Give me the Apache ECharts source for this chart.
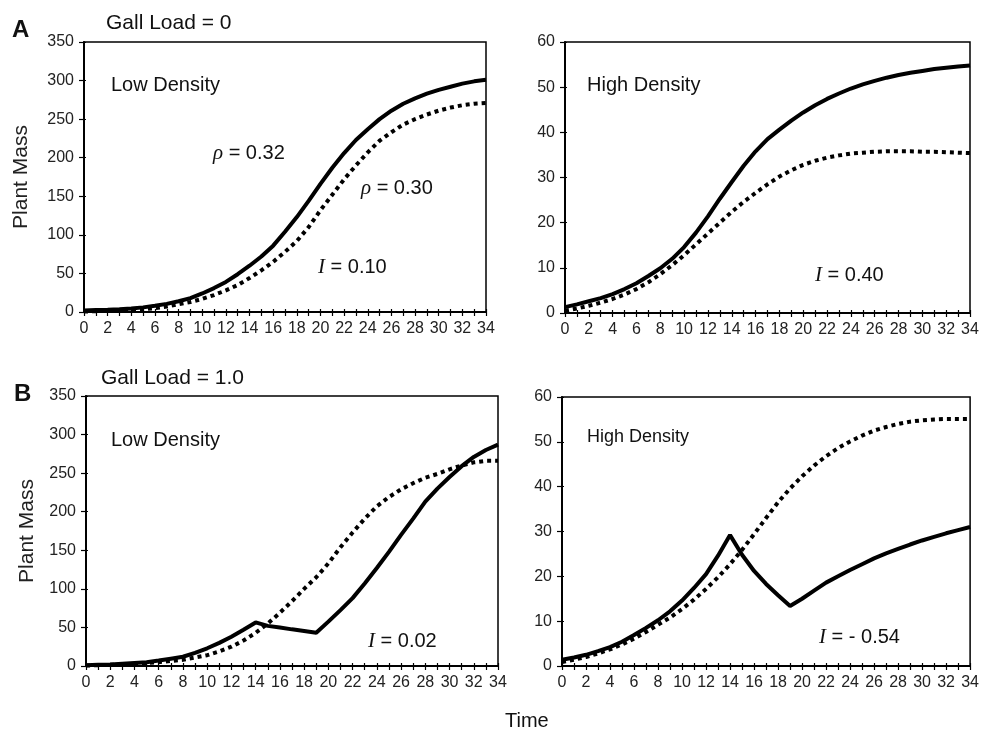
<!DOCTYPE html>
<html>
<head>
<meta charset="utf-8">
<script src="https://cdn.jsdelivr.net/npm/echarts@6/dist/echarts.min.js"></script>
<style>
  html, body { margin: 0; padding: 0; background: #fff; }
  #main { width: 982px; height: 730px; }
</style>
</head>
<body>
<div id="main"></div>
<script>
// time steps on the x axis (0..34)
const timeLabels = ['0', '1', '2', '3', '4', '5', '6', '7', '8', '9', '10', '11', '12', '13', '14', '15', '16',
    '17', '18', '19', '20', '21', '22', '23', '24', '25', '26', '27', '28', '29', '30', '31', '32', '33', '34']

// A: gall load = 0
const lowSolidA = [2, 2.5, 3, 3.6, 4.5, 6, 8, 10.5, 14, 18, 24, 31, 39, 49, 60, 72, 86, 104, 123, 144, 166,
    187, 206, 223, 237, 250, 261, 270, 277, 283, 288, 292, 296, 299, 301]
const lowDotA = [0.5, 1, 1.5, 2, 2.5, 3.5, 5, 7, 10, 13, 17, 22, 28, 35, 44, 54, 65, 78, 92, 110, 132,
    152, 172, 190, 207, 222, 233, 243, 250, 256, 261, 265, 268, 270, 271]
const highSolidA = [1.3, 1.9, 2.6, 3.3, 4.2, 5.3, 6.6, 8.2, 9.9, 12, 14.6, 17.8, 21.4, 25.3, 29, 32.6, 35.8,
    38.5, 40.6, 42.6, 44.4, 46, 47.4, 48.6, 49.7, 50.6, 51.4, 52.1, 52.7, 53.2, 53.6, 54, 54.3, 54.6, 54.8]
const highDotA = [0.5, 1, 1.6, 2.3, 3.1, 4.1, 5.3, 6.8, 8.6, 10.6, 12.8, 15.2, 17.6, 20, 22.4, 24.6, 26.6,
    28.5, 30.2, 31.6, 32.8, 33.7, 34.4, 34.9, 35.3, 35.5, 35.7, 35.8, 35.8, 35.8, 35.7, 35.7, 35.6, 35.5, 35.4]

// B: gall load = 1.0
const lowSolidB = [1, 1.5, 2, 3, 4, 5, 7, 9.5, 12, 17, 23, 30, 38, 47, 56.5, 52, 50, 47.5, 45.4, 43, 57.5,
    72.5, 88, 107, 127, 148, 170, 191, 213, 230, 245, 259, 271, 280, 287]
const lowDotB = [0.5, 1, 1.5, 2, 3, 4, 5, 6.5, 8, 11, 14, 19, 25, 33, 43, 55, 69, 84, 100, 115, 133,
    154, 173, 191, 207, 219, 229, 237, 244, 249, 255, 260, 264, 266, 266]
const highSolidB = [1.4, 1.9, 2.5, 3.3, 4.2, 5.4, 6.9, 8.5, 10.2, 12.2, 14.6, 17.4, 20.5, 24.6, 29.2, 24.8,
    21.2, 18.3, 15.8, 13.4, 15, 16.8, 18.6, 20, 21.4, 22.7, 24, 25.1, 26.1, 27.1, 28, 28.8, 29.6, 30.3, 31]
const highDotB = [0.9, 1.4, 2, 2.8, 3.7, 4.8, 6.1, 7.6, 9.2, 10.8, 12.7, 14.8, 17.2, 19.8, 22.7, 25.9, 29.4,
    33, 36.5, 39.6, 42.3, 44.7, 46.8, 48.6, 50.1, 51.4, 52.5, 53.3, 54, 54.5, 54.8, 55, 55.1, 55.1, 55.1]

const SANS = 'Liberation Sans'
const SERIF = 'Liberation Serif'

// four panels: grid box, y range, curves
const panels = [
    { box: { left: 84, top: 42, width: 402, height: 270 }, max: 350, step: 50, solid: lowSolidA, dot: lowDotA, yName: 'Plant Mass', nameGap: 52 },
    { box: { left: 565, top: 42, width: 405, height: 271 }, max: 60, step: 10, solid: highSolidA, dot: highDotA },
    { box: { left: 86, top: 396, width: 412, height: 270 }, max: 350, step: 50, solid: lowSolidB, dot: lowDotB, yName: 'Plant Mass', nameGap: 48 },
    { box: { left: 562, top: 397, width: 409, height: 269 }, max: 60, step: 10, solid: highSolidB, dot: highDotB }
]

const grid = []
const xAxis = []
const yAxis = []
const series = []

panels.forEach((p, i) => {
    grid.push(Object.assign({ show: true, borderColor: '#000', borderWidth: 1.5 }, p.box))

    // main x axis + a second one only for the ticks that poke inside
    xAxis.push({
        gridIndex: i,
        type: 'category',
        position: 'bottom',
        data: timeLabels,
        boundaryGap: false,
        axisLine: { lineStyle: { color: '#000', width: 2 } },
        axisTick: { interval: 0, length: 4, lineStyle: { color: '#000', width: 1.2 } },
        axisLabel: { interval: 1, color: '#222', fontSize: 16, fontFamily: SANS, margin: 9 },
        splitLine: { show: false }
    })
    xAxis.push({
        gridIndex: i,
        type: 'category',
        position: 'bottom',
        data: timeLabels,
        boundaryGap: false,
        axisLine: { show: false },
        axisTick: { inside: true, interval: 0, length: 3, lineStyle: { color: '#000', width: 1.2 } },
        axisLabel: { show: false },
        splitLine: { show: false }
    })

    yAxis.push({
        gridIndex: i,
        type: 'value',
        position: 'left',
        min: 0,
        max: p.max,
        interval: p.step,
        name: p.yName || '',
        nameLocation: 'middle',
        nameGap: p.nameGap || 0,
        nameTextStyle: { fontSize: 21, color: '#222', fontFamily: SANS },
        axisLine: { show: true, lineStyle: { color: '#000', width: 2 } },
        axisTick: { show: true, length: 5, lineStyle: { color: '#000', width: 1.2 } },
        axisLabel: { color: '#222', fontSize: 16, fontFamily: SANS, margin: 10 },
        splitLine: { show: false }
    })
    yAxis.push({
        gridIndex: i,
        type: 'value',
        position: 'left',
        min: 0,
        max: p.max,
        interval: p.step,
        axisLine: { show: false },
        axisTick: { show: true, inside: true, length: 2, lineStyle: { color: '#000', width: 1.2 } },
        axisLabel: { show: false },
        splitLine: { show: false }
    })

    series.push({
        type: 'line',
        xAxisIndex: i * 2,
        yAxisIndex: i * 2,
        data: p.solid,
        symbol: 'none',
        lineStyle: { color: '#000', width: 4 },
        z: 3
    })
    series.push({
        type: 'line',
        xAxisIndex: i * 2,
        yAxisIndex: i * 2,
        data: p.dot,
        symbol: 'none',
        lineStyle: { color: '#000', width: 4, type: [4, 4], cap: 'butt' },
        z: 2
    })
})

function label(text, x, y, size, extra) {
    return {
        type: 'text',
        x: x,
        y: y,
        silent: true,
        style: Object.assign({
            text: text,
            fontSize: size,
            fontFamily: SANS,
            fill: '#111',
            align: 'left',
            verticalAlign: 'middle'
        }, extra || {})
    }
}

const rich = {
    g: { fontFamily: SERIF, fontStyle: 'italic', fontSize: 21, fill: '#111' },
    n: { fontFamily: SANS, fontSize: 20, fill: '#111' }
}

const graphic = [
    label('A', 12, 30, 24, { fontWeight: 'bold' }),
    label('Gall Load = 0', 106, 23, 21),
    label('Low Density', 111, 85, 20),
    label('{g|ρ}{n| = 0.32}', 213, 153, 20, { rich: rich }),
    label('{g|ρ}{n| = 0.30}', 361, 188, 20, { rich: rich }),
    label('{g|I}{n| = 0.10}', 318, 267, 20, { rich: rich }),
    label('High Density', 587, 85, 20),
    label('{g|I}{n| = 0.40}', 815, 275, 20, { rich: rich }),

    label('B', 14, 394, 24, { fontWeight: 'bold' }),
    label('Gall Load = 1.0', 101, 378, 21),
    label('Low Density', 111, 440, 20),
    label('{g|I}{n| = 0.02}', 368, 641, 20, { rich: rich }),
    label('High Density', 587, 437, 18),
    label('{g|I}{n| = - 0.54}', 819, 637, 20, { rich: rich }),

    label('Time', 505, 721, 20)
]

const chart = echarts.init(document.getElementById('main'))
chart.setOption({
    backgroundColor: '#fff',
    animation: false,
    grid: grid,
    xAxis: xAxis,
    yAxis: yAxis,
    series: series,
    graphic: graphic
})

window.addEventListener('resize', () => {
    chart.resize()
})
</script>
</body>
</html>
